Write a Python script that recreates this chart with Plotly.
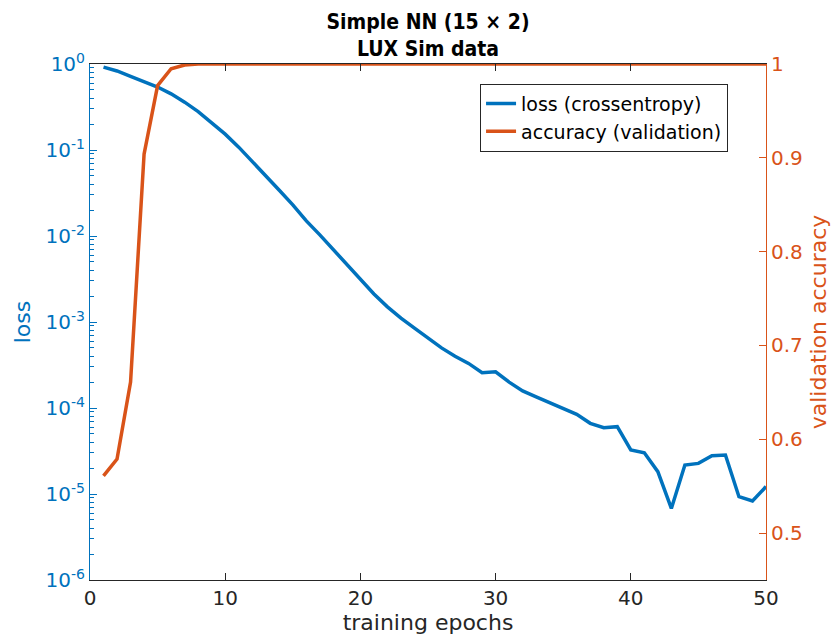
import plotly.graph_objects as go

epochs = list(range(1, 51))
loss = [0.92, 0.83, 0.72, 0.63, 0.54, 0.45, 0.36, 0.28, 0.21, 0.153,
        0.108, 0.074, 0.051, 0.034, 0.023, 0.015, 0.0103, 0.0069, 0.0046, 0.0031,
        0.00212, 0.0015, 0.00111, 0.00085, 0.00065, 0.0005, 0.0004, 0.00033, 0.000257, 0.000264,
        0.0002, 0.000158, 0.000135, 0.000116, 0.000099, 0.0000845, 0.0000664, 0.000059, 0.0000607, 0.0000325,
        0.0000302, 0.0000182, 0.0000068, 0.0000217, 0.0000227, 0.0000279, 0.0000284, 0.0000093, 0.0000083, 0.0000122]
accuracy = [0.561, 0.579, 0.661, 0.904, 0.977, 0.995, 0.999] + [1.0] * 43

loss_tickvals = [1e-6, 1e-5, 1e-4, 1e-3, 1e-2, 1e-1, 1]
loss_ticktext = ["10<sup>-6</sup>", "10<sup>-5</sup>", "10<sup>-4</sup>", "10<sup>-3</sup>",
                 "10<sup>-2</sup>", "10<sup>-1</sup>", "10<sup>0</sup>"]
acc_tickvals = [0.5, 0.6, 0.7, 0.8, 0.9, 1.0]
acc_ticktext = ["0.5", "0.6", "0.7", "0.8", "0.9", "1"]
x_tickvals = [0, 10, 20, 30, 40, 50]

BLUE = "#0072BD"
ORANGE = "#D95319"
DARK = "#262626"
FONT = "DejaVu Sans"
TITLE_FONT = "DejaVu Sans Condensed, DejaVu Sans"

fig = go.Figure()
# invisible carrier trace for the minor-tick log axis
fig.add_trace(go.Scatter(x=epochs, y=loss, mode="lines", showlegend=False, hoverinfo="skip",
                         line=dict(color="rgba(0,0,0,0)", width=0), yaxis="y3"))
fig.add_trace(go.Scatter(x=epochs, y=loss, mode="lines", name="loss (crossentropy)",
                         line=dict(color=BLUE, width=3.5), yaxis="y"))
fig.add_trace(go.Scatter(x=epochs, y=accuracy, mode="lines", name="accuracy (validation)",
                         line=dict(color=ORANGE, width=3.5), yaxis="y2"))

fig.update_layout(
    width=840, height=639,
    margin=dict(l=90, r=74, t=64, b=59),
    paper_bgcolor="white", plot_bgcolor="white",
    font=dict(family=FONT, size=20, color=DARK),
    title=dict(text="<b>Simple NN (15 × 2)</b><br><b>LUX Sim data</b>",
               x=(90 + 766) / 2 / 840, xanchor="center", y=0.955, yanchor="top",
               font=dict(family=TITLE_FONT, size=21, color="black")),
    showlegend=True,
    legend=dict(x=0.577, y=0.962, xanchor="left", yanchor="top",
                bgcolor="white", bordercolor=DARK, borderwidth=1,
                font=dict(family=FONT, size=19, color="black"),
                tracegroupgap=0, itemwidth=30),
    xaxis=dict(range=[0, 50], tickvals=x_tickvals, tickmode="array", showgrid=False, zeroline=False,
               showline=True, linecolor=DARK, linewidth=1, mirror="ticks",
               ticks="inside", ticklen=7, tickwidth=1, tickcolor=DARK,
               tickfont=dict(size=20, color=DARK),
               title=dict(text="training epochs", font=dict(size=22, color=DARK), standoff=2)),
    yaxis=dict(type="log", range=[-6, 0], tickvals=loss_tickvals, ticktext=loss_ticktext, tickmode="array",
               showgrid=False, zeroline=False, showline=True, linecolor=BLUE, linewidth=1,
               ticks="inside", ticklen=7, tickwidth=1, tickcolor=BLUE,
               tickfont=dict(size=20, color=BLUE),
               title=dict(text="loss", font=dict(size=22, color=BLUE), standoff=8)),
    yaxis3=dict(type="log", range=[-6, 0], overlaying="y", side="left", anchor="x",
                dtick="D1", showticklabels=False, ticks="inside", ticklen=4, tickwidth=1,
                tickcolor=BLUE, showgrid=False, zeroline=False, showline=False),
    yaxis2=dict(range=[0.45, 1.0], tickvals=acc_tickvals, ticktext=acc_ticktext, tickmode="array",
                overlaying="y", side="right", showgrid=False, zeroline=False,
                showline=True, linecolor=ORANGE, linewidth=1,
                ticks="inside", ticklen=7, tickwidth=1, tickcolor=ORANGE,
                tickfont=dict(size=20, color=ORANGE),
                title=dict(text="validation accuracy", font=dict(size=22, color=ORANGE), standoff=8)),
)

fig.write_html("out.html")
